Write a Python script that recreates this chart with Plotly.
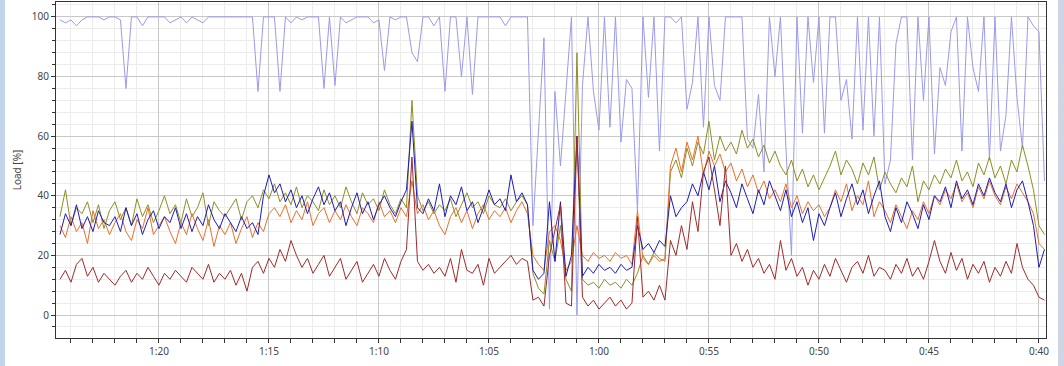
import plotly.graph_objects as go

# sample times in minutes (axis runs from 1:24 down to 0:40)
n_samples = 180
minutes = [84.5 - 0.25 * i for i in range(n_samples)]

tick_minutes = [80, 75, 70, 65, 60, 55, 50, 45, 40]
tick_labels = ["1:20", "1:15", "1:10", "1:05", "1:00", "0:55", "0:50", "0:45", "0:40"]

load_lightblue = [
    99, 98, 99, 97, 99, 100, 100, 100, 99, 100,
    100, 99, 76, 100, 100, 97, 100, 100, 100, 100,
    98, 99, 100, 98, 100, 99, 98, 100, 100, 100,
    100, 100, 100, 100, 100, 100, 75, 100, 100, 100,
    75, 100, 98, 100, 99, 100, 100, 100, 76, 100,
    77, 100, 98, 99, 100, 100, 100, 98, 99, 82,
    100, 99, 100, 100, 88, 85, 100, 100, 97, 100,
    75, 100, 100, 80, 100, 74, 100, 100, 100, 100,
    100, 97, 100, 100, 100, 100, 30, 62, 93, 2,
    75, 50, 74, 100, 0, 77, 100, 75, 62, 100,
    63, 100, 58, 79, 76, 35, 100, 73, 100, 55,
    100, 100, 98, 100, 69, 78, 100, 63, 100, 77,
    72, 100, 100, 100, 100, 59, 56, 74, 48, 100,
    80, 100, 56, 20, 100, 61, 100, 78, 100, 61,
    100, 100, 72, 79, 59, 100, 62, 100, 60, 100,
    44, 52, 91, 100, 100, 52, 100, 72, 100, 54,
    83, 77, 95, 100, 55, 100, 83, 75, 100, 52,
    100, 55, 67, 100, 73, 56, 100, 97, 95, 45,
]

load_olive = [
    33, 42, 30, 36, 34, 38, 31, 37, 29, 35,
    38, 32, 36, 30, 39, 33, 37, 31, 35, 40,
    34, 37, 31, 39, 33, 36, 41, 30, 38, 35,
    33, 36, 39, 32, 38, 40, 36, 42, 39, 44,
    38, 41, 37, 43, 36, 40, 38, 35, 42, 37,
    40, 36, 43, 38, 34, 41, 37, 39, 35, 42,
    37, 34, 39, 36, 72, 40, 35, 38, 34, 37,
    35, 39, 33, 37, 41, 36, 38, 34, 40, 37,
    36, 39, 35, 38, 40, 37, 14, 9, 7, 25,
    18, 30, 12, 8, 88, 12, 10, 11, 9, 12,
    10, 11, 9, 12, 10, 14, 20, 17, 21, 19,
    18, 48, 52, 46, 56, 50, 58, 54, 65, 52,
    60, 55, 58, 54, 62, 56, 59, 53, 57, 51,
    55, 50, 47, 52, 45, 49, 43, 47, 42, 46,
    50, 55, 47, 52, 49, 44, 51, 47, 53, 42,
    48, 44, 41, 46, 43, 50, 38, 45, 42, 47,
    44, 49, 46, 52, 45, 48, 43, 51, 47, 53,
    46, 50, 44, 52, 48, 57, 50, 42, 30, 27,
]

load_orange = [
    30, 26, 33, 28, 31, 24, 35, 29, 32, 27,
    31, 34, 28, 25, 32, 29, 36, 27, 30, 33,
    28, 24, 31, 27, 34, 29, 25, 32, 23, 30,
    27, 31, 24, 29, 33, 26, 31, 28, 34, 36,
    33, 37, 31, 35, 32, 38, 30, 34, 36, 31,
    35, 32, 37, 33, 30, 36, 34, 31, 38, 33,
    35, 31, 36, 33, 45, 34, 37, 32, 35, 30,
    27, 33, 36, 31, 35, 29, 34, 37, 32, 35,
    33, 36, 31, 35, 38, 34, 20, 17, 15, 28,
    30, 25, 15, 18, 30, 20, 18, 21, 19, 20,
    18, 21, 19, 20, 17, 35, 19, 17, 20, 18,
    19, 50, 56, 48, 58, 52, 60, 47, 55, 50,
    54, 48, 51, 45, 49, 43, 47, 41, 45, 39,
    42, 38, 44, 36, 40, 34, 38, 35, 37, 33,
    36, 42, 38, 44, 35, 40, 37, 45, 33, 38,
    35, 31, 37, 33, 29, 35, 32, 38, 34, 40,
    37, 42, 39, 44, 38, 41, 36, 43, 39, 45,
    40, 37, 43, 39, 44, 41, 38, 34, 24, 22,
]

load_darkblue = [
    27, 34, 30, 37, 29, 33, 28, 35, 31, 30,
    33, 28, 36, 30, 34, 27, 32, 35, 29, 33,
    31, 36, 29, 34, 28, 33, 30, 37, 32, 29,
    34, 31, 28, 33, 29, 31, 27, 40, 47, 41,
    44, 38, 42, 36, 40, 34, 39, 43, 37, 41,
    35, 38, 30, 36, 41, 34, 38, 32, 37, 40,
    36, 33, 38, 42, 65, 36, 34, 39, 35, 44,
    33, 40, 37, 43, 35, 38, 31, 36, 42, 37,
    39, 35, 47, 38, 41, 37, 15, 12, 14, 38,
    18, 38, 13, 20, 60, 13, 16, 14, 17, 15,
    16, 14, 17, 15, 16, 30, 22, 24, 21, 25,
    23, 40, 33, 36, 38, 44, 40, 48, 42, 50,
    38, 45, 41, 36, 44, 39, 34, 42, 37, 45,
    40, 35, 42, 33, 38, 31, 36, 25, 34, 30,
    36, 41, 33, 39, 44, 37, 42, 34, 40, 45,
    33, 28, 36, 31, 38, 34, 29, 37, 32, 40,
    38, 43, 36, 45, 39, 42, 37, 44, 40, 46,
    41, 38, 44, 36, 42, 45, 38, 30, 16, 22,
]

load_darkred = [
    12, 15, 11, 17, 19, 13, 16, 11, 14, 12,
    10, 13, 15, 11, 14, 12, 16, 13, 10, 14,
    12, 15, 13, 11, 16, 14, 12, 17, 11, 14,
    12, 15, 10, 14, 8, 16, 18, 14, 19, 16,
    22, 18, 25, 20, 16, 19, 14, 17, 20, 13,
    16, 19, 12, 15, 18, 11, 14, 17, 13, 19,
    15, 12, 18, 22, 53, 18, 15, 17, 14, 16,
    13, 19, 11, 22, 15, 14, 17, 10, 19, 14,
    16, 18, 20, 17, 19, 18, 5, 6, 3, 20,
    28, 37, 4, 3, 60, 6, 3, 5, 2, 4,
    6, 3, 5, 2, 4, 33, 6, 8, 5, 10,
    5, 25, 20, 30, 22, 38, 28, 48, 53, 42,
    30, 50, 20, 24, 18, 22, 16, 19, 14, 17,
    12, 25, 15, 19, 13, 16, 10, 15, 12, 17,
    13, 19, 15, 11, 16, 18, 14, 20, 13, 16,
    15, 12, 17, 14, 19, 13, 16, 12, 18, 25,
    18, 14, 21, 15, 19, 12, 17, 14, 18, 11,
    16, 13, 18, 14, 24, 16, 12, 10, 6, 5,
]

series = [
    ("Series 1", load_lightblue, "#9a9aec"),
    ("Series 2", load_olive, "#8e8e22"),
    ("Series 3", load_orange, "#e8702a"),
    ("Series 4", load_darkblue, "#1c1cb8"),
    ("Series 5", load_darkred, "#a02a2a"),
]

fig = go.Figure()
for name, vals, color in series:
    fig.add_trace(go.Scatter(x=minutes, y=vals, mode="lines", name=name,
                             line=dict(color=color, width=1)))

font = dict(family="Noto Sans, DejaVu Sans, sans-serif", size=10, color="#444444")

fig.update_layout(
    width=1064, height=366,
    margin=dict(l=56, r=18, t=2, b=28),
    paper_bgcolor="white", plot_bgcolor="white",
    showlegend=False,
    font=font,
    xaxis=dict(
        range=[84.68, 39.68], automargin=False,
        tickmode="array", tickvals=tick_minutes, ticktext=tick_labels,
        ticks="outside", ticklen=4, tickcolor="#333333",
        showline=True, linecolor="#333333", linewidth=1, mirror=True,
        showgrid=True, gridcolor="#c8c8c8", gridwidth=1,
        zeroline=False,
        minor=dict(tickmode="linear", tick0=0, dtick=1, ticks="outside", ticklen=4,
                   tickcolor="#333333", showgrid=True, gridcolor="#ececec"),
        tickfont=font,
    ),
    yaxis=dict(
        range=[-7.7, 105], automargin=False,
        tickmode="linear", tick0=0, dtick=20,
        ticks="outside", ticklen=4, tickcolor="#333333",
        showline=True, linecolor="#333333", linewidth=1, mirror=True,
        showgrid=True, gridcolor="#c8c8c8", gridwidth=1,
        zeroline=False,
        minor=dict(tickmode="linear", tick0=0, dtick=4, ticks="outside", ticklen=3,
                   tickcolor="#333333", showgrid=True, gridcolor="#ececec"),
        title=dict(text="Load [%]", font=font, standoff=8),
        tickfont=font,
    ),
    shapes=[
        dict(type="rect", xref="paper", yref="paper", x0=-56 / 990, x1=-51 / 990,
             y0=-28 / 336, y1=1 + 2 / 336, fillcolor="#c3d4ea", line=dict(width=0),
             layer="below"),
        dict(type="rect", xref="paper", yref="paper", x0=1 + 12 / 990, x1=1 + 18 / 990,
             y0=-28 / 336, y1=1 + 2 / 336, fillcolor="#cdd6e2", line=dict(width=0),
             layer="below"),
    ],
)

fig.write_html("out.html", config={"displayModeBar": False},
               post_script="document.body.style.margin='0';")
